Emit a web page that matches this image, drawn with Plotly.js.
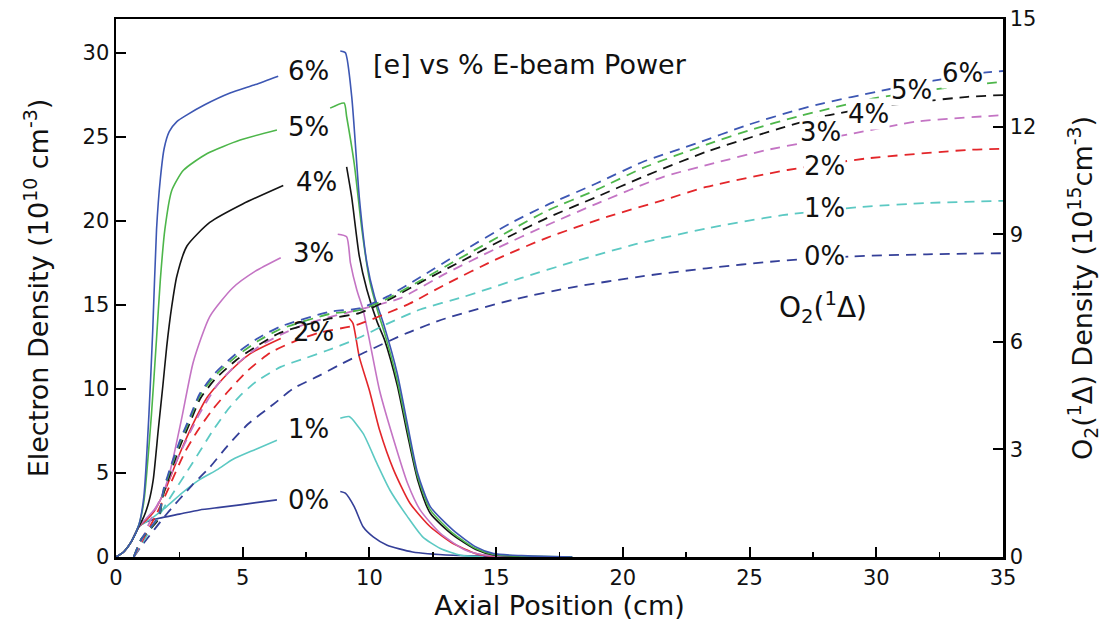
<!DOCTYPE html>
<html>
<head>
<meta charset="utf-8">
<script src="https://cdn.plot.ly/plotly-3.0.1.min.js"></script>
<style>
  html, body { margin: 0; padding: 0; background: #fff; }
  #chart { width: 1105px; height: 625px; }
</style>
</head>
<body>
<div id="chart"></div>
<script>
// E-beam power levels and their colours
const powerLabels = ["0%", "1%", "2%", "3%", "4%", "5%", "6%"];
const powerColors = ["#343f98", "#5cc9c3", "#e3262a", "#c474c4", "#141414", "#4db64a", "#3d57b3"];

// Electron density (1e10 cm^-3) vs axial position (cm); null = break at the label
const ne0X = [0, 0.3, 0.6, 0.9, 1.2, 1.7, 2.5, 3.3, 4.1, 4.9, 5.6, 6.35, null, 8.85, 9.05, 9.4, 9.75, 10.15, 10.7, 11.7, 13.3, 15, 18];
const ne0Y = [0, 0.3, 0.9, 1.8, 2.1, 2.3, 2.55, 2.8, 2.95, 3.1, 3.25, 3.4, null, 3.9, 3.8, 3.0, 1.8, 1.2, 0.7, 0.3, 0.1, 0.04, 0];

const ne1X = [0, 0.3, 0.6, 0.9, 1.2, 1.5, 2.0, 2.6, 3.3, 4.0, 4.6, 5.5, 6.35, null, 8.85, 9.2, 9.75, 10.3, 10.8, 11.5, 12.1, 12.8, 13.6, 14.5];
const ne1Y = [0, 0.3, 0.9, 1.8, 2.1, 2.4, 3.0, 3.8, 4.6, 5.2, 5.8, 6.4, 6.95, null, 8.25, 8.35, 7.35, 5.55, 4.0, 2.4, 1.2, 0.5, 0.1, 0];

const ne2X = [0, 0.3, 0.6, 0.9, 1.2, 1.5, 2.0, 2.5, 3.05, 3.6, 4.4, 5.3, 6.5, null, 9.2, 9.35, 9.6, 10.0, 10.4, 10.95, 11.6, 12.4, 13.3, 14.2, 15];
const ne2Y = [0, 0.3, 0.9, 1.8, 2.2, 2.7, 4.2, 6.1, 7.95, 9.5, 10.9, 12.1, 13.0, null, 14.2, 13.9, 11.9, 9.9, 7.55, 5.2, 3.2, 1.8, 0.8, 0.2, 0];

const ne3X = [0, 0.3, 0.6, 0.9, 1.2, 1.5, 1.75, 2.0, 2.2, 2.6, 3.05, 3.7, 4.6, 5.5, 6.5, null, 8.75, 9.1, 9.25, 9.5, 9.75, 10.0, 10.4, 10.95, 11.5, 12.0, 12.8, 13.8, 14.6, 16];
const ne3Y = [0, 0.3, 0.9, 1.8, 2.3, 2.8, 3.4, 4.4, 5.5, 8.3, 11.6, 14.3, 16.0, 17.0, 17.8, null, 19.2, 19.05, 17.5, 15.9, 14.7, 12.9, 9.9, 7.0, 4.4, 2.8, 1.4, 0.4, 0.1, 0];

const ne4X = [0, 0.3, 0.6, 0.9, 1.1, 1.3, 1.47, 1.67, 1.85, 2.0, 2.2, 2.4, 2.8, 3.7, 5.0, 6.6, null, 9.1, 9.3, 9.6, 9.9, 10.3, 10.6, 11.1, 11.5, 11.9, 12.4, 13.3, 14.2, 14.9, 16, 18];
const ne4Y = [0, 0.3, 0.9, 1.8, 2.4, 3.3, 4.6, 7.6, 10.2, 12.5, 14.9, 16.7, 18.5, 19.9, 21.0, 22.1, null, 23.2, 21.4, 17.9, 15.9, 14.0, 12.9, 10.2, 7.3, 4.6, 2.6, 1.3, 0.45, 0.12, 0.04, 0];

const ne5X = [0, 0.3, 0.6, 0.9, 1.1, 1.4, 1.6, 1.75, 1.93, 2.2, 2.66, 3.6, 4.9, 6.35, null, 8.45, 9.0, 9.1, 9.4, 9.7, 10.0, 10.35, 10.6, 11.1, 11.5, 11.9, 12.4, 13.3, 14.2, 14.9, 16, 18];
const ne5Y = [0, 0.3, 0.9, 1.9, 3.3, 8.5, 13.0, 16.5, 19.5, 21.8, 23.0, 24.0, 24.8, 25.4, null, 26.7, 27.0, 26.2, 23.4, 19.5, 16.5, 14.5, 13.3, 10.5, 7.6, 4.8, 2.8, 1.4, 0.5, 0.15, 0.05, 0];

const ne6X = [0, 0.3, 0.6, 0.9, 1.1, 1.3, 1.45, 1.6, 1.75, 1.9, 2.1, 2.4, 2.8, 3.5, 4.5, 5.5, 6.4, null, 8.85, 9.05, 9.3, 9.6, 9.9, 10.2, 10.55, 11.1, 11.5, 11.9, 12.4, 13.3, 14.2, 14.9, 16, 18];
const ne6Y = [0, 0.3, 0.9, 1.9, 3.6, 8.5, 13.5, 19.5, 22.5, 24.3, 25.3, 25.9, 26.3, 26.9, 27.6, 28.1, 28.6, null, 30.1, 30.0, 27.4, 21.4, 17.5, 15.5, 13.9, 10.9, 7.9, 5.0, 3.0, 1.6, 0.6, 0.2, 0.08, 0];

// O2(1Delta) density (1e15 cm^-3) vs axial position (cm)
const od0X = [0.7, 1.0, 2.0, 3.0, 3.7, 4.4, 5.2, 6.2, 7.0, 8.0, 8.8, 9.8, 11.5, 13.0, 15.7, 18.0, 20.8, 23.3, 26.1, 29.0, 32.0, 35.0];
const od0Y = [0, 0.3, 1.2, 2.0, 2.5, 3.1, 3.7, 4.25, 4.7, 5.05, 5.35, 5.7, 6.25, 6.65, 7.18, 7.52, 7.83, 8.05, 8.25, 8.38, 8.44, 8.47];

const od1X = [0.7, 1.0, 2.0, 3.0, 3.8, 4.4, 4.9, 5.55, 6.5, 7.5, 8.3, 9.4, 10.7, 12.0, 13.7, 16.0, 18.0, 20.5, 23.3, 26.3, 29.6, 32.0, 35.0];
const od1Y = [0, 0.35, 1.5, 2.6, 3.5, 4.1, 4.5, 4.9, 5.3, 5.55, 5.75, 6.05, 6.5, 6.9, 7.25, 7.78, 8.22, 8.72, 9.16, 9.53, 9.77, 9.87, 9.93];

const od2X = [0.7, 1.0, 1.6, 2.0, 2.7, 3.2, 3.8, 4.4, 5.2, 6.1, 7.0, 8.0, 9.5, 10.7, 11.6, 13.0, 15.0, 17.0, 19.4, 21.6, 23.3, 26.5, 29.6, 33.6, 35.0];
const od2Y = [0, 0.4, 1.2, 1.8, 2.9, 3.5, 4.1, 4.6, 5.2, 5.7, 6.0, 6.25, 6.47, 6.8, 7.07, 7.6, 8.3, 8.9, 9.49, 9.95, 10.32, 10.79, 11.11, 11.35, 11.38];

const od3X = [0.7, 1.0, 1.6, 2.0, 2.4, 3.3, 4.0, 4.8, 5.6, 6.5, 7.5, 8.5, 9.6, 11.2, 13.0, 15.0, 17.0, 19.0, 21.6, 23.6, 25.7, 29.1, 31.6, 35.0];
const od3Y = [0, 0.45, 1.4, 2.0, 2.7, 4.0, 4.8, 5.4, 5.85, 6.2, 6.5, 6.7, 6.9, 7.21, 7.9, 8.6, 9.25, 9.86, 10.6, 10.98, 11.35, 11.81, 12.14, 12.32];

const od4X = [0.7, 1.0, 1.67, 1.87, 2.2, 2.53, 2.92, 3.31, 3.9, 4.76, 5.6, 6.47, 8.45, 9.6, 10.7, 12.0, 13.5, 15.55, 17.0, 19.0, 20.8, 23.3, 26.2, 28.0, 30.0, 33.6, 35.0];
const od4Y = [0, 0.5, 1.05, 1.75, 2.45, 3.1, 3.75, 4.4, 4.95, 5.5, 5.9, 6.25, 6.65, 6.8, 7.15, 7.65, 8.2, 8.95, 9.45, 10.05, 10.6, 11.3, 11.95, 12.3, 12.55, 12.83, 12.88];

const od5X = [0.7, 1.0, 1.67, 1.87, 2.2, 2.53, 2.92, 3.31, 3.9, 4.76, 5.6, 6.47, 8.45, 9.6, 10.7, 12.0, 13.5, 15.55, 17.0, 19.0, 20.8, 23.3, 25.0, 27.0, 30.0, 33.0, 35.0];
const od5Y = [0, 0.5, 1.1, 1.82, 2.55, 3.2, 3.85, 4.5, 5.05, 5.6, 6.02, 6.35, 6.78, 6.88, 7.2, 7.7, 8.3, 9.1, 9.65, 10.25, 10.85, 11.5, 11.9, 12.3, 12.8, 13.1, 13.25];

const od6X = [0.7, 1.0, 1.67, 1.87, 2.2, 2.53, 2.92, 3.31, 3.9, 4.76, 5.6, 6.47, 8.45, 9.6, 10.7, 12.0, 13.5, 15.55, 17.0, 18.97, 20.8, 22.9, 24.9, 26.86, 27.9, 30.0, 32.0, 34.1, 35.0];
const od6Y = [0, 0.5, 1.12, 1.87, 2.61, 3.26, 3.91, 4.56, 5.12, 5.68, 6.1, 6.42, 6.84, 6.93, 7.26, 7.8, 8.45, 9.3, 9.81, 10.42, 11.02, 11.53, 12.04, 12.46, 12.65, 12.97, 13.25, 13.49, 13.55];

const neX = [ne0X, ne1X, ne2X, ne3X, ne4X, ne5X, ne6X];
const neY = [ne0Y, ne1Y, ne2Y, ne3Y, ne4Y, ne5Y, ne6Y];
const odX = [od0X, od1X, od2X, od3X, od4X, od5X, od6X];
const odY = [od0Y, od1Y, od2Y, od3Y, od4Y, od5Y, od6Y];

// Curve labels: [x, y] in data units; electron labels on the left axis, O2 labels on the right axis
const neLabelPos = [[7.6, 3.4], [7.6, 7.6], [7.8, 13.4], [7.8, 18.1], [7.9, 22.3], [7.6, 25.6], [7.6, 28.9]];
const odLabelPos = [[27.95, 8.4], [27.95, 9.73], [27.95, 10.9], [27.8, 11.85], [29.7, 12.36], [31.4, 13.02], [33.4, 13.5]];

const FONT = "DejaVu Sans, Verdana, sans-serif";

const traces = [];
for (let i = 0; i < powerLabels.length; i++) {
  traces.push({
    x: odX[i], y: odY[i], yaxis: "y2", type: "scatter", mode: "lines",
    name: "O2(1Δ) " + powerLabels[i],
    line: { color: powerColors[i], width: 1.8, dash: "10px,7px", shape: "spline", smoothing: 0.6 },
    hoverinfo: "skip"
  });
}
for (let i = 0; i < powerLabels.length; i++) {
  traces.push({
    x: neX[i], y: neY[i], type: "scatter", mode: "lines",
    name: "[e] " + powerLabels[i], connectgaps: false,
    line: { color: powerColors[i], width: 1.6, shape: "spline", smoothing: 0.6 },
    hoverinfo: "skip"
  });
}

const annotations = [];
for (let i = 0; i < powerLabels.length; i++) {
  annotations.push({
    x: neLabelPos[i][0], y: neLabelPos[i][1], xref: "x", yref: "y",
    text: powerLabels[i], showarrow: false,
    font: { family: FONT, size: 26, color: "#111" }
  });
  annotations.push({
    x: odLabelPos[i][0], y: odLabelPos[i][1], xref: "x", yref: "y2",
    text: powerLabels[i], showarrow: false, bgcolor: "#ffffff", borderpad: 0,
    font: { family: FONT, size: 26, color: "#111" }
  });
}
annotations.push({
  x: 16.34, y: 29.3, xref: "x", yref: "y", xanchor: "center",
  text: "[e] vs % E-beam Power", showarrow: false,
  font: { family: FONT, size: 27, color: "#111" }
});
annotations.push({
  x: 27.9, y: 6.95, xref: "x", yref: "y2",
  text: "O<sub>2</sub>(<sup>1</sup>Δ)", showarrow: false,
  font: { family: FONT, size: 28, color: "#111" }
});

const axisCommon = {
  showgrid: false, zeroline: false, showline: true, linecolor: "#000", linewidth: 2.5,
  ticks: "inside", ticklen: 10, tickwidth: 2, tickcolor: "#000",
  tickfont: { family: FONT, size: 21, color: "#111" }
};

const layout = {
  width: 1105, height: 625,
  margin: { l: 116, r: 102, t: 19, b: 68 },
  paper_bgcolor: "#fff", plot_bgcolor: "#fff",
  showlegend: false,
  xaxis: Object.assign({}, axisCommon, {
    range: [0, 35], tickvals: [0, 5, 10, 15, 20, 25, 30, 35], mirror: true,
    minor: { dtick: 2.5, ticks: "inside", ticklen: 5, tickwidth: 1.5, tickcolor: "#000" },
    title: { text: "Axial Position (cm)", font: { family: FONT, size: 27, color: "#111" }, standoff: 2 }
  }),
  yaxis: Object.assign({}, axisCommon, {
    range: [0, 32], tickvals: [0, 5, 10, 15, 20, 25, 30], mirror: true,
    title: { text: "Electron Density (10<sup>10</sup> cm<sup>-3</sup>)", font: { family: FONT, size: 27, color: "#111" }, standoff: 26 }
  }),
  yaxis2: Object.assign({}, axisCommon, {
    range: [0, 15], tickvals: [0, 3, 6, 9, 12, 15], overlaying: "y", side: "right",
    title: { text: "O<sub>2</sub>(<sup>1</sup>Δ) Density (10<sup>15</sup>cm<sup>-3</sup>)", font: { family: FONT, size: 27, color: "#111" }, standoff: 38 }
  }),
  annotations: annotations
};

Plotly.newPlot("chart", traces, layout, { staticPlot: true, displayModeBar: false });
</script>
</body>
</html>
